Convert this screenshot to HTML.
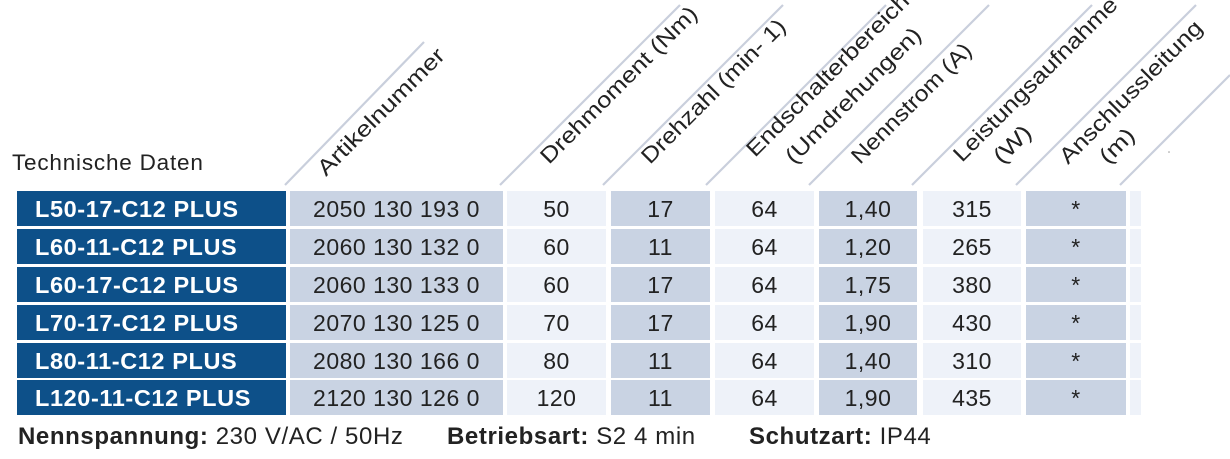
<!DOCTYPE html>
<html><head><meta charset="utf-8"><style>
body{margin:0;width:1230px;height:459px;background:#fff;position:relative;overflow:hidden;font-family:"Liberation Sans",Arial,sans-serif;color:#222}
.c{position:absolute;height:35px;line-height:36px;text-align:center;font-size:23px;letter-spacing:0.5px}
.b{background:#0d5089;color:#fff;font-weight:bold;font-size:23.5px;text-align:left;padding-left:18px;box-sizing:border-box;letter-spacing:0.6px}
.d{background:#c9d3e3}.l{background:#eef2f9}
.t{position:absolute;font-size:23px;white-space:nowrap;letter-spacing:0.5px}
</style></head><body>
<svg width="1230" height="200" style="position:absolute;left:0;top:0">
<g stroke="#c9cfdc" stroke-width="2.2">
<line x1="285" y1="185" x2="424" y2="42"/>
<line x1="500" y1="185" x2="680" y2="5"/>
<line x1="603" y1="185" x2="783" y2="5"/>
<line x1="706" y1="185" x2="886" y2="5"/>
<line x1="809" y1="185" x2="989" y2="5"/>
<line x1="912" y1="185" x2="1092" y2="5"/>
<line x1="1016" y1="185" x2="1196" y2="5"/>
<line x1="1120" y1="185" x2="1230" y2="75"/>
</g>
<circle cx="1169" cy="152" r="0.8" fill="#999"/>
<g font-family="Liberation Sans,Arial,sans-serif" font-size="22" fill="#222">
<text transform="translate(326,177) rotate(-45)" textLength="170" lengthAdjust="spacingAndGlyphs">Artikelnummer</text>
<text transform="translate(549,165) rotate(-45)" textLength="212" lengthAdjust="spacingAndGlyphs">Drehmoment (Nm)</text>
<text transform="translate(650,165) rotate(-45)" textLength="194" lengthAdjust="spacingAndGlyphs">Drehzahl (min- 1)</text>
<text transform="translate(755,158) rotate(-45)" textLength="220" lengthAdjust="spacingAndGlyphs">Endschalterbereich</text>
<text transform="translate(794,165) rotate(-45)" textLength="182" lengthAdjust="spacingAndGlyphs">(Umdrehungen)</text>
<text transform="translate(860,165) rotate(-45)" textLength="160" lengthAdjust="spacingAndGlyphs">Nennstrom (A)</text>
<text transform="translate(962,163) rotate(-45)" textLength="222" lengthAdjust="spacingAndGlyphs">Leistungsaufnahme</text>
<text transform="translate(1002,165) rotate(-45)" textLength="44" lengthAdjust="spacingAndGlyphs">(W)</text>
<text transform="translate(1068,165) rotate(-45)" textLength="192" lengthAdjust="spacingAndGlyphs">Anschlussleitung</text>
<text transform="translate(1108,165) rotate(-45)" textLength="40" lengthAdjust="spacingAndGlyphs">(m)</text>
</g>
</svg>
<div class="t" style="left:12px;top:150px;font-size:22.5px;letter-spacing:0.8px">Technische Daten</div>
<div id="rows"></div>
<div class="t" style="left:18px;top:423px;font-size:24px;letter-spacing:0.6px"><b>Nennspannung:</b> 230 V/AC / 50Hz</div>
<div class="t" style="left:447px;top:423px;font-size:24px;letter-spacing:0.6px"><b>Betriebsart:</b> S2 4 min</div>
<div class="t" style="left:749px;top:423px;font-size:24px;letter-spacing:0.6px"><b>Schutzart:</b> IP44</div>
<script>
var data=[
["L50-17-C12 PLUS","2050 130 193 0","50","17","64","1,40","315"],
["L60-11-C12 PLUS","2060 130 132 0","60","11","64","1,20","265"],
["L60-17-C12 PLUS","2060 130 133 0","60","17","64","1,75","380"],
["L70-17-C12 PLUS","2070 130 125 0","70","17","64","1,90","430"],
["L80-11-C12 PLUS","2080 130 166 0","80","11","64","1,40","310"],
["L120-11-C12 PLUS","2120 130 126 0","120","11","64","1,90","435"]];
var cols=[[17,269,"b"],[290,213,"d"],[507,99,"l"],[611,99,"d"],[715,99,"l"],[819,98,"d"],[923,98,"l"],[1026,100,"d"],[1130,11,"l"]];
var tops=[191,229,267,305,343,380];
var h="";
data.forEach(function(r,i){
 var vals=r.concat(["*",""]);
 cols.forEach(function(c,j){
  h+='<div class="c '+c[2]+'" style="left:'+c[0]+'px;top:'+tops[i]+'px;width:'+c[1]+'px">'+vals[j]+'</div>';
 });
});
document.getElementById("rows").innerHTML=h;
</script>
</body></html>
